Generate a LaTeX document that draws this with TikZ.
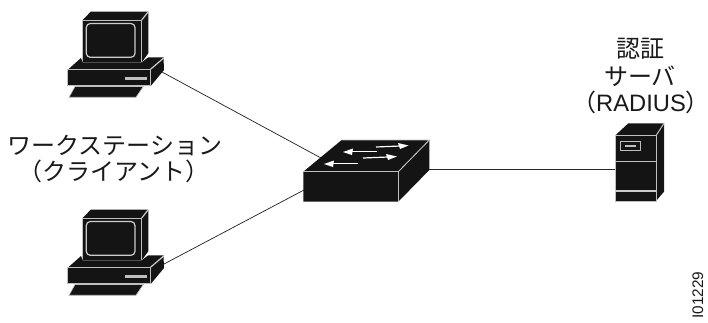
\documentclass[tikz,border=0pt]{standalone}
\usepackage{fontspec}
\setmainfont{Liberation Sans}
\newfontfamily\cjk{Noto Sans CJK JP}
\tikzset{
  x=0.75pt,y=-0.75pt,
  edge line/.style={draw=white!75!black,line width=0.75pt,line join=round,fill=black!92!white},
  glow/.style={draw=white!80!black,line width=0.9pt},
  conn/.style={draw=black!85,line width=0.55pt},
  lbl/.style={font=\cjk\fontsize{18}{20}\selectfont,inner sep=0pt,align=center,text=black!90},
  pics/workstation/.style={code={
    % monitor
    \fill[black!92!white] (82.7,20) -- (90.7,11.7) -- (148.3,11.7) -- (148.3,53.3) -- (141.7,62.3) -- (82.7,62.3) -- cycle;
    \draw[edge line] (82.7,20) rectangle (141.7,62.3);
    \draw[glow] (141.7,20) -- (148.3,11.7);
    \draw[glow,rounded corners=3pt] (86.3,23.5) rectangle (135,57.3);
    % base
    \fill[black!92!white] (68.3,69.3) -- (81,58) -- (82.7,62.3) -- (141.7,62.3) -- (148.3,57.3) -- (163.5,57.3) -- (164,70) -- (151,85.7) -- (67.3,85.7) -- cycle;
    \draw[edge line] (67.3,69.3) -- (150.5,69.3) -- (150.5,85.7) -- (67.3,85.7) -- cycle;
    \draw[glow] (150.5,69.3) -- (163.7,58);
    \fill[white!75!black] (125,77) rectangle (146.7,80);
    % keyboard
    \fill[black!92!white,draw=white!75!black,line width=0.5pt] (75,86.5) -- (143.3,86.5) -- (136,97.3) -- (69,97.3) -- cycle;
  }}
}
\begin{document}
\begin{tikzpicture}
\useasboundingbox (0,0) rectangle (708,322);
\coordinate (pcAport) at (162,72);
\coordinate (pcBport) at (164,264);
\coordinate (swTL) at (321,158);
\coordinate (swBL) at (304,190);
\coordinate (swR) at (429,169.5);
\coordinate (srvL) at (616,169.5);
\draw[conn] (pcAport) -- (swTL);
\draw[conn] (pcBport) -- (swBL);
\draw[conn] (swR) -- (srvL);
\pic at (0,0) {workstation};
\pic at (0,198) {workstation};
% switch
\fill[black!92!white] (341.7,140) -- (429.3,140) -- (429.3,170) -- (398.3,201.7) -- (303.3,201.7) -- (303.3,171.7) -- cycle;
\draw[white!75!black,line width=0.7pt] (303.3,171.7) -- (398.3,171.7) -- (398.3,201.7);
\draw[white!75!black,line width=0.7pt] (398.3,171.7) -- (429.3,140) -- (341.7,140);
\begin{scope}[white]
\draw[line width=0.9pt] (376,147) -- (400,146);
\fill (408.5,145.5) -- (398,143) -- (400,149) -- cycle;
\draw[line width=0.9pt] (363,158) -- (388,157);
\fill (397,156.5) -- (386,154) -- (388,160) -- cycle;
\draw[line width=0.9pt] (351,151.5) -- (377,151.5);
\fill (343,152) -- (353,148.5) -- (352,155) -- cycle;
\draw[line width=0.9pt] (332,163.5) -- (358,163.5);
\fill (324,164) -- (334,160.5) -- (333,167) -- cycle;
\end{scope}
% server
\fill[black!92!white] (615,135.7) -- (628.3,123.3) -- (664,123.3) -- (664,191.7) -- (656,201) -- (615,201) -- cycle;
\draw[edge line,fill=none] (615,135.7) rectangle (656,201);
\draw[edge line,fill=none] (656,135.7) -- (664,123.3);
\draw[edge line] (615,161.7) -- (656,161.7);
\draw[glow] (615,191) -- (656,191);
\draw[edge line] (620,141.7) rectangle (640.7,150.7);
\fill[white!75!black] (625,145) rectangle (636,147);
% labels
\node[lbl] (auth) at (640,49) {認証};
\node[lbl] (srv) at (640,76) {サーバ};
\node[lbl,anchor=base] (radius) at (641,111) {（{\rmfamily\fontsize{17.8}{20}\selectfont RADIUS}）};
\node[lbl] (ws) at (115,145) {ワークステーション};
\node[lbl] (cl) at (114,171) {（クライアント）};
\node[font=\fontsize{11.5}{13}\selectfont,rotate=90,inner sep=0pt,text=black!90,anchor=base] (id) at (703,295) {I01229};
\end{tikzpicture}
\end{document}
